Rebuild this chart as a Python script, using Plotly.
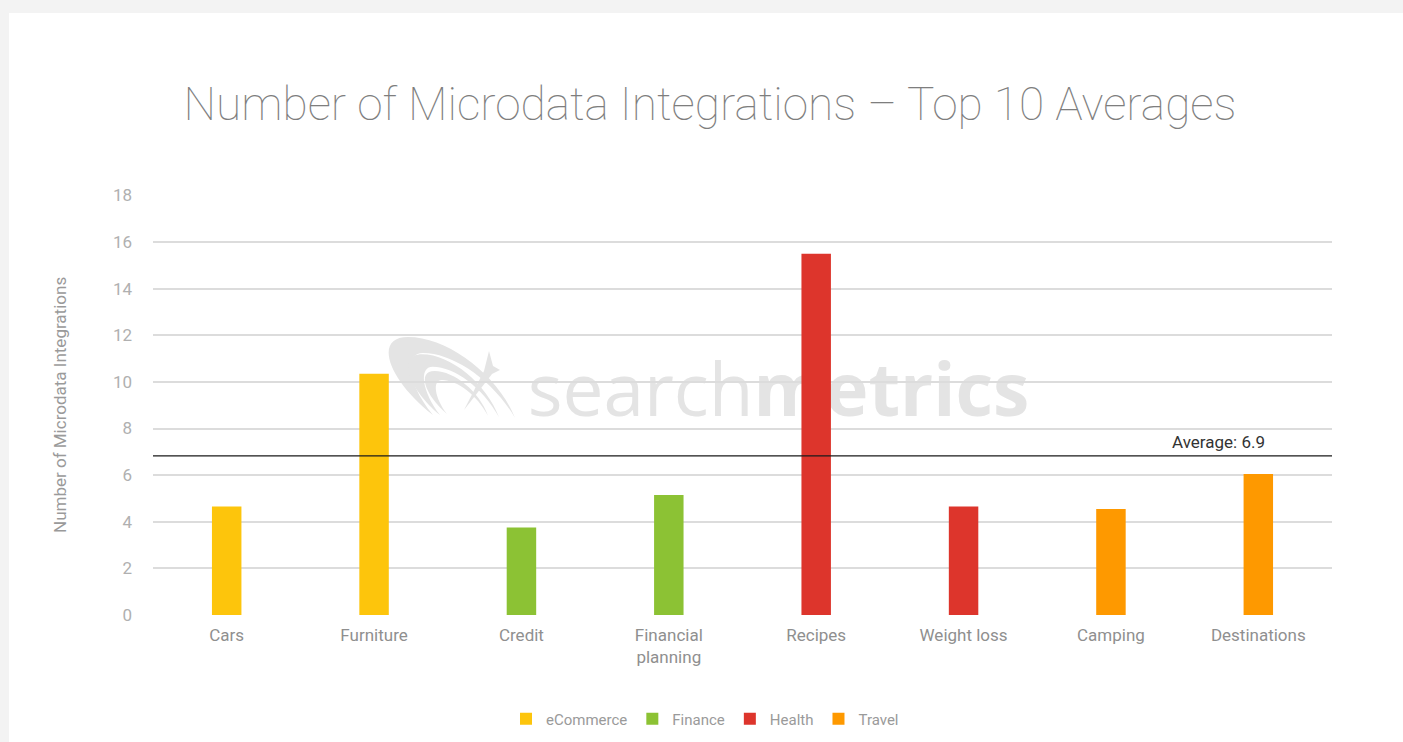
import plotly.graph_objects as go

# ---- data ----
categories = ["Cars", "Furniture", "Credit", "Financial<br>planning",
              "Recipes", "Weight loss", "Camping", "Destinations"]
groups = ["eCommerce", "eCommerce", "Finance", "Finance",
          "Health", "Health", "Travel", "Travel"]
values = [4.65, 10.35, 3.75, 5.15, 15.5, 4.65, 4.55, 6.05]
group_names = ["eCommerce", "Finance", "Health", "Travel"]
group_colors = ["#FDC50C", "#8CC234", "#DD352C", "#FE9900"]
average_label = "Average: 6.9"
y_ticks = [0, 2, 4, 6, 8, 10, 12, 14, 16, 18]

avg_value = sum(values) / len(values)

# ---- layout geometry (page pixels) ----
W, H = 1403, 742
PL, PR, PT, PB = 153, 1332, 195, 615          # plot area
PW, PH = PR - PL, PB - PT


def px(X):
    return (X - PL) / PW


def py(Y):
    return (PB - Y) / PH


fig = go.Figure()
for g, c in zip(group_names, group_colors):
    xs = [cat for cat, gg in zip(categories, groups) if gg == g]
    ys = [v for v, gg in zip(values, groups) if gg == g]
    fig.add_trace(go.Bar(x=xs, y=ys, name=g, marker=dict(color=c, line=dict(width=0)),
                         width=0.2, hoverinfo="x+y"))

shapes = []

# white card on light grey page
shapes.append(dict(type="rect", xref="paper", yref="paper", layer="below",
                   x0=px(9), x1=px(W + 5), y0=py(H + 5), y1=py(13),
                   fillcolor="white", line=dict(width=0)))

# watermark logo (crescents + star)
WM = "#e4e4e4"
template_outer = [(0, 0), (-45, -35), (-60, -78), (-25, -78), (15, -78), (65, -40), (82, 3)]
template_inner = [(60, -35), (20, -62), (-10, -62), (-30, -62), (-25, -30), (0, 0)]


def crescent(ax, ay, sx, sy):
    pts_o = [(ax + u * sx, ay + v * sy) for u, v in template_outer]
    pts_i = [(ax + u * sx, ay + v * sy) for u, v in template_inner]
    f = lambda p: f"{px(p[0]):.5f},{py(p[1]):.5f}"
    d = "M" + f(pts_o[0])
    d += " C" + f(pts_o[1]) + " " + f(pts_o[2]) + " " + f(pts_o[3])
    d += " C" + f(pts_o[4]) + " " + f(pts_o[5]) + " " + f(pts_o[6])
    d += " C" + f(pts_i[0]) + " " + f(pts_i[1]) + " " + f(pts_i[2])
    d += " C" + f(pts_i[3]) + " " + f(pts_i[4]) + " " + f(pts_i[5]) + " Z"
    return d


for ax_, ay_, sx_, sy_ in [(433, 415, 1.0, 1.0), (440, 415, 0.72, 0.78), (447, 414, 0.5, 0.55)]:
    shapes.append(dict(type="path", xref="paper", yref="paper", layer="below",
                       path=crescent(ax_, ay_, sx_, sy_), fillcolor=WM, line=dict(width=0)))

star = [(489, 351), (493, 366), (500, 370), (492, 374), (464, 410), (484, 371)]
star_path = "M" + " L".join(f"{px(a):.5f},{py(b):.5f}" for a, b in star) + " Z"
shapes.append(dict(type="path", xref="paper", yref="paper", layer="below",
                   path=star_path, fillcolor=WM, line=dict(width=0)))

# watermark word (as shape label so it sits behind the bars)
shapes.append(dict(type="rect", xref="paper", yref="paper", layer="below",
                   x0=px(529), x1=px(1028), y0=py(430), y1=py(354),
                   fillcolor="rgba(0,0,0,0)", line=dict(width=0),
                   label=dict(text="search<b>metrics</b>", textposition="middle center",
                              font=dict(family="Open Sans", size=73, color=WM))))

# average line
shapes.append(dict(type="line", xref="paper", yref="y", layer="above",
                   x0=0, x1=1, y0=avg_value, y1=avg_value,
                   line=dict(color="#1a1a1a", width=1.3)))

annotations = [
    dict(text="Number of Microdata Integrations", xref="paper", yref="paper",
         x=px(60), y=0.5, textangle=-90, showarrow=False, xanchor="center", yanchor="middle",
         font=dict(family="Roboto", size=17, color="#9a9a9a")),
    dict(text=average_label, xref="paper", yref="y", x=px(1218), y=avg_value,
         xanchor="center", yanchor="bottom", yshift=2, showarrow=False,
         font=dict(family="Roboto", size=17, color="#333333")),
]

fig.update_layout(
    width=W, height=H,
    margin=dict(l=PL, r=W - PR, t=PT, b=H - PB, pad=0),
    paper_bgcolor="#f3f3f3",
    plot_bgcolor="rgba(0,0,0,0)",
    barmode="overlay",
    title=dict(text="Number of Microdata Integrations \u2013 Top 10 Averages",
               x=710 / W, xanchor="center", y=1 - 104 / H, yanchor="middle",
               xref="container", yref="container",
               font=dict(family="Roboto", size=46, color="#7e7e7e", weight=100)),
    xaxis=dict(categoryorder="array", categoryarray=categories, showgrid=False,
               showline=False, zeroline=False, ticks="", ticklabelstandoff=8,
               tickfont=dict(family="Roboto", size=17, color="#8f8f8f")),
    yaxis=dict(range=[0, 18.02], tickvals=y_ticks, showgrid=True, gridcolor="#dcdcdc",
               gridwidth=1.6, zeroline=False, showline=False, ticks="",
               ticklabelstandoff=20,
               tickfont=dict(family="Roboto", size=17, color="#b0b0b0")),
    legend=dict(orientation="h", xref="container", yref="container",
                x=705 / W, xanchor="center", y=1 - 719 / H, yanchor="middle",
                font=dict(family="Roboto", size=15, color="#9a9a9a"),
                bgcolor="rgba(0,0,0,0)", itemclick=False),
    shapes=shapes,
    annotations=annotations,
    showlegend=True,
)

fig.write_html("out.html", config={"displayModeBar": False},
               post_script="document.body.style.margin='0';")
